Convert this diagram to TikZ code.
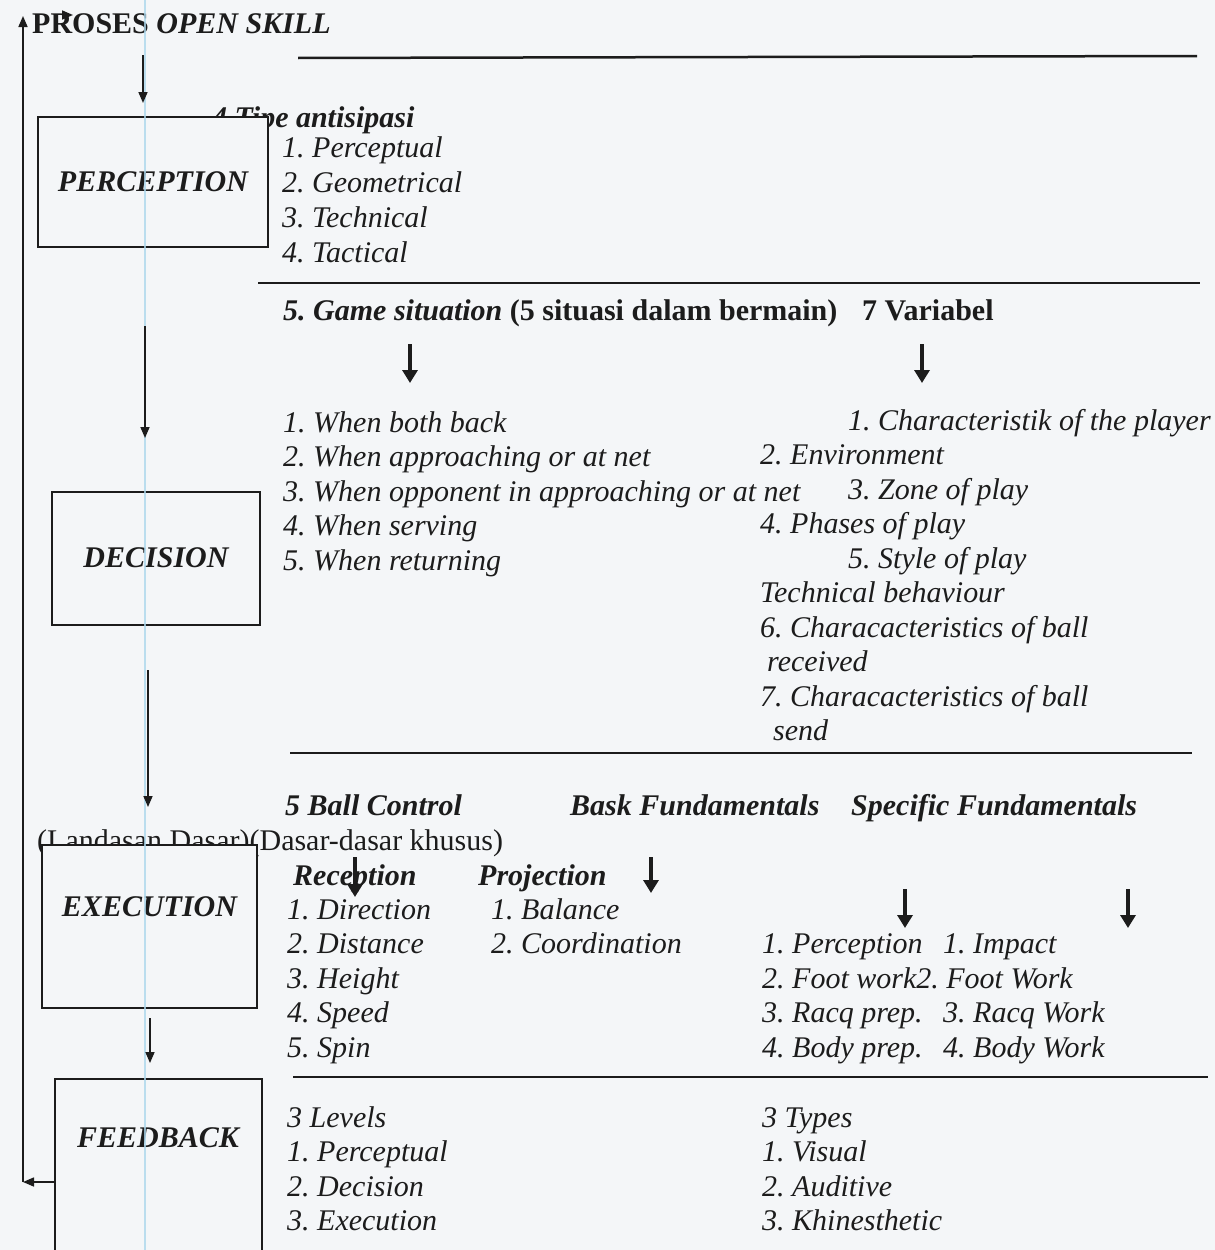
\documentclass[tikz,border=0pt]{standalone}
\usepackage{fontspec}
\setmainfont{Liberation Serif}
\usetikzlibrary{arrows.meta,positioning,calc}
\definecolor{paper}{RGB}{244,246,248}
\definecolor{ink}{RGB}{28,28,28}
\definecolor{margin}{RGB}{172,215,236}
\frenchspacing

\begin{document}
\begin{tikzpicture}[x=1pt,y=-1pt,font=\fontsize{30}{35}\selectfont,text=ink]
\tikzstyle{stage}=[draw=ink,line width=2pt,fill=paper,inner sep=0pt,font=\fontsize{30}{35}\selectfont\bfseries\itshape]
\tikzstyle{item}=[anchor=base west,inner sep=0pt,font=\fontsize{30}{35}\selectfont\itshape]
\tikzstyle{head}=[anchor=base west,inner sep=0pt,font=\fontsize{30}{35}\selectfont\bfseries\itshape]
\tikzstyle{plain}=[anchor=base west,inner sep=0pt,font=\fontsize{30}{35}\selectfont]
\tikzstyle{flow}=[-{Triangle[length=11pt,width=9pt]},line width=1.6pt,draw=ink]
\tikzstyle{heavy}=[-{Triangle[length=13pt,width=15pt]},line width=4.5pt,draw=ink]
\tikzstyle{rule}=[line width=2.5pt,draw=ink]

\fill[paper] (0,0) rectangle (1215,1250);
\useasboundingbox (0,0) rectangle (1215,1250);

% title
\node[plain,font=\fontsize{30}{35}\selectfont\bfseries] (title) at (32,33) {PROSES \textit{OPEN SKILL}};

% perception
\node[head] (tipe) at (212,127) {4 Tipe antisipasi};
\node[stage,minimum width=230pt,minimum height=130pt] (perception) at (153,182) {PERCEPTION};
\node[item] (p1) at (282,157) {1. Perceptual};
\node[item] (p2) at (282,192) {2. Geometrical};
\node[item] (p3) at (282,227) {3. Technical};
\node[item] (p4) at (282,262) {4. Tactical};
\coordinate (r1w) at (298,58);
\coordinate (r1e) at (1197,56);
\draw[rule] (r1w) -- (r1e);
\coordinate (r2w) at (258,283);
\coordinate (r2e) at (1200,283);
\draw[rule] (r2w) -- (r2e);

% decision
\node[stage,minimum width=208pt,minimum height=133pt] (decision) at (156,558) {DECISION};
\node[head] (game) at (283,320) {5. Game situation \textup{(5 situasi dalam bermain)}};
\node[plain,font=\fontsize{30}{35}\selectfont\bfseries] (variabel) at (862,320) {7 Variabel};
\coordinate (h1s) at (410,344);
\coordinate (h1e) at (410,383);
\draw[heavy] (h1s) -- (h1e);
\coordinate (h2s) at (922,344);
\coordinate (h2e) at (922,383);
\draw[heavy] (h2s) -- (h2e);
\node[item] (g1) at (283,432) {1. When both back};
\node[item] (g2) at (283,466.5) {2. When approaching or at net};
\node[item] (g3) at (283,501) {3. When opponent in approaching or at net};
\node[item] (g4) at (283,535.5) {4. When serving};
\node[item] (g5) at (283,570) {5. When returning};
\node[item] (v1) at (848,430) {1. Characteristik of the player};
\node[item] (v2) at (760,464.5) {2. Environment};
\node[item] (v3) at (848,499) {3. Zone of play};
\node[item] (v4) at (760,533.5) {4. Phases of play};
\node[item] (v5) at (848,568) {5. Style of play};
\node[item] (tech) at (760,602.5) {Technical behaviour};
\node[item] (v6) at (760,637) {6. Characacteristics of ball};
\node[item] (v6b) at (767,671.5) {received};
\node[item] (v7) at (760,706) {7. Characacteristics of ball};
\node[item] (v7b) at (773,740.5) {send};
\coordinate (r3w) at (290,753);
\coordinate (r3e) at (1192,753);
\draw[rule] (r3w) -- (r3e);

% execution
\node[head] (ball) at (285,815) {5 Ball Control};
\node[head] (bask) at (570,815) {Bask Fundamentals};
\node[head] (specific) at (851,815) {Specific Fundamentals};
\node[plain] (landasan) at (37,850) {(Landasan Dasar)(Dasar-dasar khusus)};
\node[stage,minimum width=215pt,minimum height=163pt] (execution) at (149.5,926.5) {};
\node[font=\fontsize{30}{35}\selectfont\bfseries\itshape,inner sep=0pt] (executionlbl) at ([yshift=-63pt]execution.north) {EXECUTION};
\node[head] (reception) at (293,885) {Reception};
\node[head] (projection) at (478,885) {Projection};
\coordinate (h3s) at (355,857);
\coordinate (h3e) at (355,897);
\draw[heavy] (h3s) -- (h3e);
\coordinate (h4s) at (651,857);
\coordinate (h4e) at (651,893);
\draw[heavy] (h4s) -- (h4e);
\coordinate (h5s) at (905,889);
\coordinate (h5e) at (905,928);
\draw[heavy] (h5s) -- (h5e);
\coordinate (h6s) at (1128,889);
\coordinate (h6e) at (1128,928);
\draw[heavy] (h6s) -- (h6e);
\node[item] (e1) at (287,919) {1. Direction};
\node[item] (e2) at (287,953.5) {2. Distance};
\node[item] (e3) at (287,988) {3. Height};
\node[item] (e4) at (287,1022.5) {4. Speed};
\node[item] (e5) at (287,1057) {5. Spin};
\node[item] (j1) at (491,919) {1. Balance};
\node[item] (j2) at (491,953.5) {2. Coordination};
\node[item] (s1) at (762,953.5) {1. Perception};
\node[item] (s2) at (762,988) {2. Foot work2. Foot Work};
\node[item] (s3) at (762,1022.5) {3. Racq prep.};
\node[item] (s4) at (762,1057) {4. Body prep.};
\node[item] (t1) at (943,953.5) {1. Impact};
\node[item] (t3) at (943,1022.5) {3. Racq Work};
\node[item] (t4) at (943,1057) {4. Body Work};
\coordinate (r4w) at (293,1077);
\coordinate (r4e) at (1208,1077);
\draw[rule] (r4w) -- (r4e);

% feedback
\draw[line width=2pt,draw=ink,fill=paper] (55,1252) -- (55,1079) -- (262,1079) -- (262,1252);
\node[font=\fontsize{30}{35}\selectfont\bfseries\itshape,inner sep=0pt] (feedback) at (158,1138) {FEEDBACK};
\node[item] (l0) at (287,1127) {3 Levels};
\node[item] (l1) at (287,1161.5) {1. Perceptual};
\node[item] (l2) at (287,1196) {2. Decision};
\node[item] (l3) at (287,1230.5) {3. Execution};
\node[item] (y0) at (762,1127) {3 Types};
\node[item] (y1) at (762,1161.5) {1. Visual};
\node[item] (y2) at (762,1196) {2. Auditive};
\node[item] (y3) at (762,1230.5) {3. Khinesthetic};

\draw[margin,line width=1.5pt,opacity=0.8] (145,0) -- (145,1250);

% flow between stages and feedback loop
\coordinate (a1s) at (143,55);
\coordinate (a1e) at (143,103);
\draw[flow] (a1s) -- (a1e);
\coordinate (a2s) at (145,326);
\coordinate (a2e) at (145,438);
\draw[flow] (a2s) -- (a2e);
\coordinate (a3s) at (148,670);
\coordinate (a3e) at (148,807);
\draw[flow] (a3s) -- (a3e);
\coordinate (a4s) at (150,1018);
\coordinate (a4e) at (150,1063);
\draw[flow] (a4s) -- (a4e);
\coordinate (looptop) at (23,16);
\coordinate (loopbot) at (23,1182);
\coordinate (fbout) at (55,1182);
\coordinate (titletip) at (73,15);
\draw[flow] (fbout) -- (loopbot);
\draw[flow] (loopbot) -- (looptop);
\draw[flow] ([xshift=-8pt]titletip) -- (titletip);
\end{tikzpicture}
\end{document}
